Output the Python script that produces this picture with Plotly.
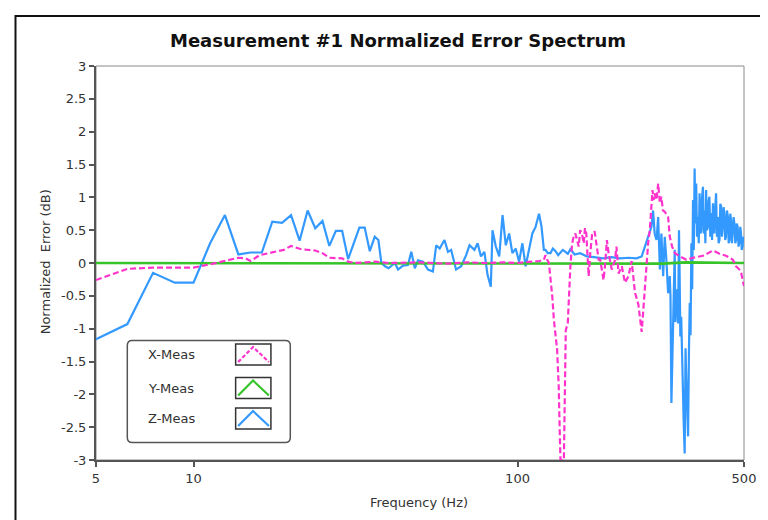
import plotly.graph_objects as go
import math

# ---------------- data ----------------
z_freq = [5.0, 6.25, 7.5, 8.75, 10.0, 11.25, 12.5, 13.75, 15.0, 16.25, 17.5, 18.75, 20.0, 21.25, 22.5,
          23.75, 25.0, 26.25, 27.5, 28.75, 30.0, 31.25, 32.5, 33.75, 35.0, 36.25, 37.2, 38.0, 39.0, 40.0,
          41.8, 42.8, 44.3, 45.9, 47.0, 48.2, 49.3, 51.1, 52.9, 54.8, 56.1, 57.5, 59.5, 61.0, 62.4,
          64.6, 67.0, 69.4, 71.1, 73.6, 75.3, 77.1, 79.0, 80.8, 82.7, 83.7, 85.7, 87.8, 89.9, 92.0,
          94.2, 96.4, 98.7, 101.1, 103.5, 105.9, 108.5, 111.1, 113.7, 116.5, 118.6, 120.6, 122.0, 124.0,
          126.4, 128.5, 131.0, 133.5, 135.7, 138.0, 140.6, 143.0, 145.6, 150.0, 156.0, 163.8, 172.0,
          184.0, 195.0, 207.0, 220.0, 233.0, 241.6, 247.0, 253.0, 259.0, 262.0, 265.0, 268.5, 271.7,
          275.0, 278.0, 281.5, 284.7, 288.0, 291.6, 295.0, 296.5, 298.5, 300.0, 302.0, 303.5, 305.6,
          307.0, 309.0, 311.0, 313.0, 315.0, 316.5, 318.0, 320.0, 322.0, 324.0, 326.0, 328.0, 330.0,
          332.0, 334.0, 336.0, 338.0, 340.0, 342.0, 344.0, 346.0, 348.0, 350.0, 352.0, 354.0, 356.0,
          358.0, 360.5, 362.5, 364.6, 367.0, 369.0, 371.0, 373.5, 375.5, 377.7, 380.0, 382.0, 384.5,
          387.0, 389.0, 391.0, 393.5, 396.0, 398.5, 401.0, 403.0, 405.0, 407.5, 410.0, 412.5, 415.0,
          417.5, 420.0, 422.5, 425.0, 427.5, 430.0, 432.5, 435.0, 437.5, 440.0, 443.0, 446.0, 448.5,
          451.0, 453.5, 456.0, 459.0, 462.0, 464.5, 467.0, 470.0, 472.5, 475.0, 478.0, 481.0, 484.0,
          487.0, 489.5, 492.0, 495.0, 497.5, 500.0]
z_val = [-1.16, -0.93, -0.15, -0.30, -0.30, 0.30, 0.73, 0.13, 0.16, 0.16, 0.63, 0.61, 0.73, 0.34, 0.80,
         0.53, 0.64, 0.26, 0.49, 0.49, 0.06, 0.30, 0.54, 0.54, 0.18, 0.40, 0.35, 0.0, -0.05, -0.08,
         0.0, -0.10, -0.04, -0.03, 0.17, -0.08, 0.04, 0.02, -0.10, -0.13, 0.27, 0.22, 0.35, 0.17, 0.20,
         -0.10, -0.05, 0.12, 0.27, 0.20, 0.30, 0.10, 0.17, -0.18, -0.36, 0.50, 0.25, 0.10, 0.73, 0.27,
         0.45, 0.15, 0.22, 0.02, 0.30, -0.05, 0.22, 0.45, 0.55, 0.75, 0.55, 0.20, 0.20, 0.15,
         0.15, 0.22, 0.18, 0.12, 0.16, 0.20, 0.17, 0.14, 0.21, 0.13, 0.15, 0.10, 0.09,
         0.07, 0.09, 0.07, 0.08, 0.07, 0.10, 0.25, 0.40, 0.55, 0.80, 0.45, 0.35, 0.70,
         -0.10, 0.45, -0.20, 0.40, 0.05, -0.46, -0.20, -0.50, -2.13, -1.50, -1.07, -0.30, 0.20,
         -0.90, -0.66, -0.40, -0.92, 0.50, -0.20, -1.12, -0.82, -1.50, -2.03, -2.50, -2.90, -1.30,
         -1.83, -2.20, -2.64, -1.40, -0.61, -1.10, 0.30, -0.40, 0.96, 0.20, 1.44, 0.60, 1.21,
         0.40, 0.70, 0.30, 1.06, 0.45, 0.50, 1.00, 1.16, 0.45, 0.80, 0.30, 1.11, 0.50,
         0.55, 0.95, 1.01, 0.40, 0.76, 0.35, 0.91, 0.60, 0.45, 0.85, 1.06, 0.40, 0.70,
         0.30, 0.35, 0.90, 0.86, 0.40, 0.55, 0.85, 0.76, 0.35, 0.40, 0.80, 0.70, 0.30,
         0.35, 0.75, 0.65, 0.30, 0.50, 0.70, 0.60, 0.30, 0.35, 0.60, 0.55, 0.25, 0.32,
         0.55, 0.45, 0.20, 0.25, 0.40, 0.30]

x_freq = [5.0, 6.25, 7.5, 8.75, 10.0, 11.25, 12.5, 13.75, 14.5, 15.0, 16.0, 17.0, 18.0, 19.0, 20.0,
          21.5, 23.75, 25.0, 26.25, 28.75, 30.0, 31.5, 36.25, 40.0, 50.0, 60.0, 70.0, 80.0, 90.0,
          100.0, 110.0, 117.0, 120.6, 122.0, 123.5, 125.0, 128.0, 129.5, 132.5, 134.0, 135.0, 135.7,
          139.0, 139.8, 140.9, 142.9, 144.2, 145.6, 147.4, 149.0, 150.8, 152.5, 154.5, 156.0, 158.0,
          160.0, 161.5, 163.0, 165.8, 167.7, 170.0, 173.0, 175.8, 178.0, 180.0, 184.3, 186.5, 188.7,
          191.0, 195.4, 200.0, 202.0, 205.0, 209.8, 214.7, 220.0, 225.0, 230.4, 236.0, 241.6, 244.5,
          247.0, 250.0, 253.0, 256.0, 258.0, 261.0, 263.0, 265.0, 268.5, 271.7, 275.0, 278.0, 281.0,
          284.7, 291.6, 295.0, 300.0, 306.0, 317.0, 332.0, 348.0, 373.5, 401.0, 420.0, 440.0, 462.0,
          472.5, 484.0, 490.0, 495.0, 500.0]
x_val = [-0.26, -0.09, -0.07, -0.07, -0.07, -0.02, 0.03, 0.08, 0.07, 0.03, 0.12, 0.15, 0.18, 0.20, 0.26,
         0.21, 0.19, 0.15, 0.08, 0.07, 0.02, 0.0, 0.02, 0.0, 0.01, -0.01, 0.01, 0.0, 0.01,
         0.0, 0.02, 0.03, 0.05, 0.12, 0.05, 0.0, -0.51, -0.87, -1.32, -1.88, -2.59, -3.0,
         -3.0, -2.29, -1.02, -0.92, -0.41, -0.05, 0.30, 0.40, 0.45, 0.35, 0.25, 0.50, 0.45,
         0.30, 0.53, 0.45, -0.20, 0.15, 0.45, 0.48, 0.20, 0.05, 0.05, -0.26, 0.0, 0.35,
         0.15, -0.10, 0.05, 0.25, -0.16, -0.05, -0.30, -0.20, 0.03, -0.45, -0.63, -1.05, -0.71,
         -0.40, 0.0, 0.30, 0.50, 0.75, 1.11, 0.96, 1.06, 0.96, 1.21, 0.91, 1.01, 0.80,
         0.78, 0.70, 0.40, 0.25, 0.15, 0.10, 0.05, 0.08, 0.11, 0.19, 0.14, 0.11, 0.05,
         -0.05, -0.10, -0.15, -0.25, -0.35]

y_freq = [5.0, 50.0, 100.0, 200.0, 280.0, 330.0, 380.0, 420.0, 460.0, 500.0]
y_val = [0.0, 0.0, 0.0, 0.0, -0.01, 0.01, 0.01, 0.0, 0.01, 0.0]

series_names = ["X-Meas", "Y-Meas", "Z-Meas"]
series_colors = ["#FF33CC", "#36C42A", "#3399FF"]

y_ticks = [3, 2.5, 2, 1.5, 1, 0.5, 0, -0.5, -1, -1.5, -2, -2.5, -3]
y_tick_text = ["3", "2.5", "2", "1.5", "1", "0.5", "0", "-0.5", "-1", "-1.5", "-2", "-2.5", "-3"]
x_ticks = [5, 10, 100, 500]
x_tick_text = ["5", "10", "100", "500"]

FONT = "DejaVu Sans"

# ---------------- figure ----------------
fig = go.Figure()
fig.add_trace(go.Scatter(x=z_freq, y=z_val, mode="lines", name=series_names[2],
                         line=dict(color=series_colors[2], width=2.2)))
fig.add_trace(go.Scatter(x=y_freq, y=y_val, mode="lines", name=series_names[1],
                         line=dict(color=series_colors[1], width=2.6)))
fig.add_trace(go.Scatter(x=x_freq, y=x_val, mode="lines", name=series_names[0],
                         line=dict(color=series_colors[0], width=2.2, dash="6px,3px")))

# The page has an 8px body margin; positions below are given in page pixels.
OFF = 8
W, H = 760, 512
L, R, T, B = 96 - OFF, 748 - OFF, 66 - OFF, 460 - OFF


def px(x):
    return (x - OFF - L) / (R - L)


def py(y):
    return (B - (y - OFF)) / (B - T)


shapes = []
# outer frame of the picture
shapes.append(dict(type="rect", xref="paper", yref="paper",
                   x0=px(15), x1=px(800), y0=py(560), y1=py(16),
                   line=dict(color="#111111", width=2), layer="below"))
# thin plot frame (top / right)
shapes.append(dict(type="rect", xref="paper", yref="paper", x0=0, x1=1, y0=0, y1=1,
                   line=dict(color="#8a8a8a", width=1), layer="below"))

# legend box (rounded)
lx0, lx1, ly0, ly1, r = 127.5, 291.5, 340.5, 442.5, 5
path = (f"M {px(lx0 + r)},{py(ly0)} L {px(lx1 - r)},{py(ly0)} Q {px(lx1)},{py(ly0)} {px(lx1)},{py(ly0 + r)} "
        f"L {px(lx1)},{py(ly1 - r)} Q {px(lx1)},{py(ly1)} {px(lx1 - r)},{py(ly1)} "
        f"L {px(lx0 + r)},{py(ly1)} Q {px(lx0)},{py(ly1)} {px(lx0)},{py(ly1 - r)} "
        f"L {px(lx0)},{py(ly0 + r)} Q {px(lx0)},{py(ly0)} {px(lx0 + r)},{py(ly0)} Z")
shapes.append(dict(type="path", xref="paper", yref="paper", path=path,
                   fillcolor="white", line=dict(color="#555555", width=1.5), layer="above"))

annotations = []
centers = [354.5, 388.0, 418.5]
for name, col, cy in zip(series_names, series_colors, centers):
    bx0, bx1 = 236.5, 272.0
    by0, by1 = cy - 10.5, cy + 10.5
    shapes.append(dict(type="rect", xref="paper", yref="paper",
                       x0=px(bx0), x1=px(bx1), y0=py(by1), y1=py(by0),
                       line=dict(color="#333333", width=1.5), fillcolor="white", layer="above"))
    dash = "4px,2px" if name == "X-Meas" else "solid"
    shapes.append(dict(type="path", xref="paper", yref="paper",
                       path=f"M {px(239)},{py(by1 - 3)} L {px(254)},{py(by0 + 3)} L {px(270)},{py(by1 - 3)}",
                       line=dict(color=col, width=2.2, dash=dash), layer="above"))
    annotations.append(dict(text=name, xref="paper", yref="paper", x=px(146), y=py(cy),
                            xanchor="left", yanchor="middle", showarrow=False,
                            font=dict(family=FONT, size=13, color="#333333")))

# axis titles and main title
annotations.append(dict(text="Normalized  Error (dB)", xref="paper", yref="paper",
                        x=px(45), y=py(262), textangle=-90, showarrow=False,
                        xanchor="center", yanchor="middle",
                        font=dict(family=FONT, size=13, color="#333333")))
annotations.append(dict(text="Frequency (Hz)", xref="paper", yref="paper",
                        x=px(421), y=py(502), showarrow=False,
                        xanchor="center", yanchor="middle",
                        font=dict(family=FONT, size=13, color="#333333")))
annotations.append(dict(text="<b>Measurement #1 Normalized Error Spectrum</b>", xref="paper", yref="paper",
                        x=px(400), y=py(41), showarrow=False,
                        xanchor="center", yanchor="middle",
                        font=dict(family=FONT, size=18, color="#111111")))

fig.update_layout(
    width=W, height=H,
    margin=dict(l=L, r=W - R, t=T, b=H - B),
    paper_bgcolor="white", plot_bgcolor="white",
    showlegend=False,
    shapes=shapes, annotations=annotations,
    font=dict(family=FONT, size=13, color="#333333"),
)
fig.update_xaxes(type="log", range=[math.log10(5), math.log10(500)],
                 tickvals=x_ticks, ticktext=x_tick_text,
                 ticks="outside", ticklen=5, tickwidth=1.5, tickcolor="#555555",
                 showgrid=False, zeroline=False, showline=True, linecolor="#555555",
                 linewidth=2, mirror=False, tickfont=dict(family=FONT, size=13, color="#333333"))
fig.update_yaxes(range=[-3, 3], tickvals=y_ticks, ticktext=y_tick_text,
                 ticks="outside", ticklen=5, tickwidth=1.5, tickcolor="#555555",
                 showgrid=False, zeroline=False, showline=True, linecolor="#555555",
                 linewidth=2, mirror=False, tickfont=dict(family=FONT, size=13, color="#333333"))

fig.write_html("out.html")
